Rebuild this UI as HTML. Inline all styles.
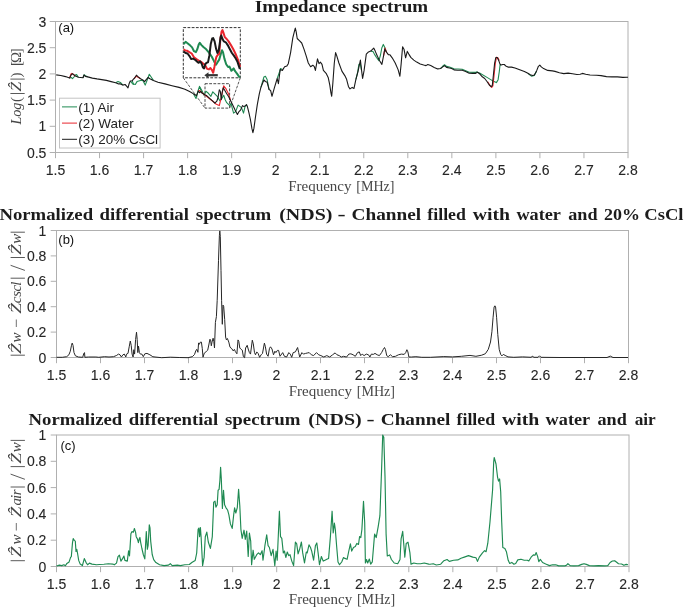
<!DOCTYPE html>
<html><head><meta charset="utf-8"><title>Impedance spectrum</title>
<style>
html,body{margin:0;padding:0;background:#fff;}
body{width:685px;height:607px;overflow:hidden;}
svg{display:block;will-change:transform;}
.ti{font-family:"Liberation Serif",serif;font-weight:bold;font-size:16.5px;fill:#1c1c1c;}
.tk{font-family:"Liberation Sans",sans-serif;font-size:14px;fill:#262626;stroke:#262626;stroke-width:0.1px;}
.xl{font-family:"Liberation Serif",serif;font-size:14.5px;fill:#474747;}
.yl{font-family:"Liberation Serif",serif;font-size:15px;fill:#474747;}
.pl{font-family:"Liberation Sans",sans-serif;font-size:13px;fill:#111;}
.lg{font-family:"Liberation Sans",sans-serif;font-size:13.45px;fill:#222;}
</style></head>
<body><svg width="685" height="607" viewBox="0 0 685 607">
<text x="254.73" y="11.5" class="ti" textLength="91.46" lengthAdjust="spacingAndGlyphs">Impedance</text>
<text x="352.10" y="11.5" class="ti" textLength="76.08" lengthAdjust="spacingAndGlyphs">spectrum</text>
<rect x="55.5" y="21.5" width="572.5" height="131.0" fill="none" stroke="#b0b0b0" stroke-width="1"/>
<line x1="55.50" y1="152.5" x2="55.50" y2="158.2" stroke="#b0b0b0" stroke-width="1"/>
<text x="55.50" y="175" class="tk" text-anchor="middle">1.5</text>
<line x1="99.54" y1="152.5" x2="99.54" y2="158.2" stroke="#b0b0b0" stroke-width="1"/>
<text x="99.54" y="175" class="tk" text-anchor="middle">1.6</text>
<line x1="143.58" y1="152.5" x2="143.58" y2="158.2" stroke="#b0b0b0" stroke-width="1"/>
<text x="143.58" y="175" class="tk" text-anchor="middle">1.7</text>
<line x1="187.62" y1="152.5" x2="187.62" y2="158.2" stroke="#b0b0b0" stroke-width="1"/>
<text x="187.62" y="175" class="tk" text-anchor="middle">1.8</text>
<line x1="231.65" y1="152.5" x2="231.65" y2="158.2" stroke="#b0b0b0" stroke-width="1"/>
<text x="231.65" y="175" class="tk" text-anchor="middle">1.9</text>
<line x1="275.69" y1="152.5" x2="275.69" y2="158.2" stroke="#b0b0b0" stroke-width="1"/>
<text x="275.69" y="175" class="tk" text-anchor="middle">2</text>
<line x1="319.73" y1="152.5" x2="319.73" y2="158.2" stroke="#b0b0b0" stroke-width="1"/>
<text x="319.73" y="175" class="tk" text-anchor="middle">2.1</text>
<line x1="363.77" y1="152.5" x2="363.77" y2="158.2" stroke="#b0b0b0" stroke-width="1"/>
<text x="363.77" y="175" class="tk" text-anchor="middle">2.2</text>
<line x1="407.81" y1="152.5" x2="407.81" y2="158.2" stroke="#b0b0b0" stroke-width="1"/>
<text x="407.81" y="175" class="tk" text-anchor="middle">2.3</text>
<line x1="451.85" y1="152.5" x2="451.85" y2="158.2" stroke="#b0b0b0" stroke-width="1"/>
<text x="451.85" y="175" class="tk" text-anchor="middle">2.4</text>
<line x1="495.88" y1="152.5" x2="495.88" y2="158.2" stroke="#b0b0b0" stroke-width="1"/>
<text x="495.88" y="175" class="tk" text-anchor="middle">2.5</text>
<line x1="539.92" y1="152.5" x2="539.92" y2="158.2" stroke="#b0b0b0" stroke-width="1"/>
<text x="539.92" y="175" class="tk" text-anchor="middle">2.6</text>
<line x1="583.96" y1="152.5" x2="583.96" y2="158.2" stroke="#b0b0b0" stroke-width="1"/>
<text x="583.96" y="175" class="tk" text-anchor="middle">2.7</text>
<line x1="628.00" y1="152.5" x2="628.00" y2="158.2" stroke="#b0b0b0" stroke-width="1"/>
<text x="628.00" y="175" class="tk" text-anchor="middle">2.8</text>
<line x1="49.7" y1="152.50" x2="55.5" y2="152.50" stroke="#b0b0b0" stroke-width="1"/>
<text x="46.4" y="157.50" class="tk" text-anchor="end">0.5</text>
<line x1="49.7" y1="126.30" x2="55.5" y2="126.30" stroke="#b0b0b0" stroke-width="1"/>
<text x="46.4" y="131.30" class="tk" text-anchor="end">1</text>
<line x1="49.7" y1="100.10" x2="55.5" y2="100.10" stroke="#b0b0b0" stroke-width="1"/>
<text x="46.4" y="105.10" class="tk" text-anchor="end">1.5</text>
<line x1="49.7" y1="73.90" x2="55.5" y2="73.90" stroke="#b0b0b0" stroke-width="1"/>
<text x="46.4" y="78.90" class="tk" text-anchor="end">2</text>
<line x1="49.7" y1="47.70" x2="55.5" y2="47.70" stroke="#b0b0b0" stroke-width="1"/>
<text x="46.4" y="52.70" class="tk" text-anchor="end">2.5</text>
<line x1="49.7" y1="21.50" x2="55.5" y2="21.50" stroke="#b0b0b0" stroke-width="1"/>
<text x="46.4" y="26.50" class="tk" text-anchor="end">3</text>
<text x="288.16" y="190.5" class="xl" textLength="63.35" lengthAdjust="spacingAndGlyphs">Frequency</text>
<text x="356.23" y="190.5" class="xl" textLength="38.33" lengthAdjust="spacingAndGlyphs">[MHz]</text>
<g transform="translate(20.8,0) rotate(-90)"><text x="-113.6" y="0" text-anchor="middle" class="yl" font-size="15" font-style="italic" textLength="22" lengthAdjust="spacingAndGlyphs">Log</text><text x="-99.6" y="0" text-anchor="middle" class="yl" font-size="17">(</text><line x1="-93.5" y1="-10.4" x2="-93.5" y2="3.9" stroke="#474747" stroke-width="0.9"/><text x="-86.6" y="0" text-anchor="middle" class="yl" font-size="15" font-style="italic" textLength="9.6" lengthAdjust="spacingAndGlyphs">Ẑ</text><line x1="-79.1" y1="-10.4" x2="-79.1" y2="3.9" stroke="#474747" stroke-width="0.9"/><text x="-74.9" y="0" text-anchor="middle" class="yl" font-size="17">)</text><text x="-63.6" y="0" text-anchor="middle" class="yl" font-size="15">[</text><text x="-57.3" y="0" text-anchor="middle" class="yl" font-size="15">Ω</text><text x="-50.8" y="0" text-anchor="middle" class="yl" font-size="15">]</text></g>
<text x="58.3" y="32.4" class="pl">(a)</text>
<rect x="205" y="83.7" width="24.6" height="24.4" fill="none" stroke="#4a4a4a" stroke-width="1" stroke-dasharray="2.8,1.4"/>
<line x1="183.3" y1="77.8" x2="205" y2="108.1" stroke="#555" stroke-width="1" stroke-dasharray="2.8,1.4"/>
<line x1="240.3" y1="77.8" x2="229.6" y2="108.1" stroke="#555" stroke-width="1" stroke-dasharray="2.8,1.4"/>
<polyline points="69.6,78.1 71.2,77.5 72.5,78.7 74.0,77.0 75.2,75.0 76.6,74.6 78.4,77.2" fill="none" stroke="#1f8a52" stroke-width="1.1" stroke-linejoin="round"/>
<polyline points="83.0,77.8 84.0,74.8 85.4,75.8 87.7,76.7" fill="none" stroke="#1f8a52" stroke-width="1.1" stroke-linejoin="round"/>
<polyline points="115.7,82.8 118.0,81.6 120.4,82.5 122.7,84.8" fill="none" stroke="#1f8a52" stroke-width="1.1" stroke-linejoin="round"/>
<polyline points="130.3,81.0 131.5,82.5 132.7,84.0 134.0,84.6" fill="none" stroke="#1f8a52" stroke-width="1.1" stroke-linejoin="round"/>
<polyline points="132.1,80.8 133.5,84.0 135.3,84.5 137.0,81.6 140.5,80.5 142.8,80.4 144.2,83.0 145.2,85.1 147.2,80.0 149.3,74.2 151.5,77.5 153.4,80.4" fill="none" stroke="#1f8a52" stroke-width="1.1" stroke-linejoin="round"/>
<polyline points="193.6,93.9 196.0,98.5 198.0,91.0 199.5,86.3 201.0,90.5 202.4,93.3" fill="none" stroke="#1f8a52" stroke-width="1.1" stroke-linejoin="round"/>
<polyline points="200.0,87.4 202.0,90.8 204.0,95.3 205.9,91.3 208.4,93.3 210.9,96.3 212.8,91.8 214.8,93.8 217.3,96.3 219.8,100.7 221.7,98.7 223.7,95.3 225.2,99.7 226.7,102.7 229.7,105.6 231.1,103.7 232.6,109.6 233.6,113.1 235.6,111.6 238.1,105.1 239.5,106.1 241.5,107.6 243.5,113.1 245.0,106.6 247.0,104.7" fill="none" stroke="#1f8a52" stroke-width="1.1" stroke-linejoin="round"/>
<polyline points="260.9,87.4 263.9,77.0 265.4,76.3 267.1,79.5 269.1,89.6" fill="none" stroke="#1f8a52" stroke-width="1.1" stroke-linejoin="round"/>
<polyline points="277.2,78.5 279.5,72.0 280.5,68.5 282.4,69.5" fill="none" stroke="#1f8a52" stroke-width="1.1" stroke-linejoin="round"/>
<polyline points="370.7,51.1 373.0,51.5 374.4,54.1 376.5,57.5 378.9,60.7 380.5,55.0 381.8,48.0 383.3,44.4 384.8,47.5 386.3,51.9" fill="none" stroke="#1f8a52" stroke-width="1.1" stroke-linejoin="round"/>
<polyline points="355.9,79.3 357.5,73.0 358.9,64.4 360.4,64.0 361.4,70.0" fill="none" stroke="#1f8a52" stroke-width="1.1" stroke-linejoin="round"/>
<polyline points="440.6,68.5 442.4,66.5 444.5,64.8 446.5,66.4 449.4,67.0 454.0,68.8 462.2,69.3 469.2,72.2 475.7,72.4 477.4,71.5" fill="none" stroke="#1f8a52" stroke-width="1.1" stroke-linejoin="round"/>
<polyline points="477.4,72.3 480.0,73.3 487.0,77.4 492.8,80.9 496.4,82.6 498.1,79.7 499.3,71.5 500.1,64.5 501.0,65.1" fill="none" stroke="#1f8a52" stroke-width="1.1" stroke-linejoin="round"/>
<polyline points="527.9,73.3 531.4,76.2 534.3,75.4 536.6,71.0" fill="none" stroke="#1f8a52" stroke-width="1.1" stroke-linejoin="round"/>
<polyline points="69.6,78.1 71.0,74.0 71.9,73.4 73.5,74.5 75.4,76.1" fill="none" stroke="#e8262e" stroke-width="1.15" stroke-linejoin="round"/>
<polyline points="134.1,78.7 136.4,76.2 138.5,77.5 140.5,78.7" fill="none" stroke="#e8262e" stroke-width="1.15" stroke-linejoin="round"/>
<polyline points="198.3,91.0 199.5,90.5 200.7,91.5" fill="none" stroke="#e8262e" stroke-width="1.15" stroke-linejoin="round"/>
<polyline points="200.0,91.3 205.9,95.8 212.8,101.2 216.3,104.2 219.3,105.6 221.3,97.2 223.7,85.9 225.7,88.3 228.7,94.3 230.6,100.7" fill="none" stroke="#e8262e" stroke-width="1.15" stroke-linejoin="round"/>
<polyline points="383.6,55.6 385.1,48.1 386.3,51.9" fill="none" stroke="#e8262e" stroke-width="1.15" stroke-linejoin="round"/>
<polyline points="487.6,81.7 489.9,85.3 491.7,87.3 492.9,85.8 494.1,75.0 495.3,63.4 496.5,57.2 497.9,57.7 499.2,60.6" fill="none" stroke="#e8262e" stroke-width="1.15" stroke-linejoin="round"/>
<polyline points="56.2,74.9 60.8,75.5 65.5,76.6 69.6,78.1 71.4,74.6 72.5,73.8 73.7,74.6 75.4,76.1 78.4,77.2 83.0,77.8 84.0,75.0 85.4,76.4 87.7,76.9 92.4,78.1 97.0,78.9 101.7,79.6 106.4,80.4 111.1,81.6 115.7,82.8 118.6,83.9 120.4,83.9 122.7,85.1 125.1,84.5 126.8,86.3 128.0,87.8 129.2,83.4 130.3,81.0 132.1,80.8 133.8,78.7 134.1,78.7 136.4,75.2 138.2,76.9 140.5,78.7 142.8,79.9 144.6,81.6 146.4,79.3 148.1,77.5 149.9,78.7 153.4,80.4 158.0,82.2 165.0,83.9 172.0,85.7 179.1,87.4 184.9,89.2 189.6,91.5 193.6,93.9 196.6,95.6 198.3,91.0 199.5,92.7 200.7,91.5 202.4,93.3 204.9,94.8 206.9,95.8 209.9,98.7 212.8,101.2 214.8,103.2 216.8,101.2 218.0,97.7 219.3,89.8 220.3,91.3 221.3,99.7 222.2,92.3 223.2,87.8 224.7,90.3 226.7,93.8 228.7,96.7 230.6,100.7 232.6,104.7 235.1,110.1 237.4,114.5 239.0,111.6 240.5,110.1 242.5,105.6 244.0,106.6 245.3,105.6 246.5,104.7 247.4,106.6 248.9,112.6 250.4,119.5 251.9,128.4 252.9,132.6 253.9,128.4 255.4,117.5 257.3,104.7 259.3,93.8 260.9,87.4 263.9,80.0 265.4,81.5 267.1,82.2 269.1,89.6 270.6,90.4 272.0,96.3 274.3,88.1 277.2,78.5 278.4,83.7 280.2,69.6 282.4,70.4 284.6,66.7 286.9,65.9 288.3,63.7 290.6,52.6 292.8,37.8 294.3,31.9 295.3,28.1 296.2,31.9 297.2,38.5 299.4,40.7 301.7,43.0 303.9,48.9 306.1,55.6 308.3,63.0 310.6,66.7 312.8,65.2 314.3,66.7 315.4,70.4 316.5,64.4 317.5,58.8 319.0,63.7 320.5,62.2 322.0,64.4 323.4,70.4 326.1,73.3 328.3,77.8 329.8,85.2 330.9,92.6 331.7,96.3 332.8,83.7 334.3,63.0 335.6,52.6 336.7,55.6 338.9,63.0 341.9,71.1 344.8,75.6 346.6,79.3 348.5,86.7 350.0,88.9 352.2,87.4 354.0,88.4 355.9,79.3 358.1,71.1 360.4,60.0 361.4,68.9 362.6,78.5 364.1,70.4 366.3,54.1 368.5,51.9 370.7,51.1 373.7,48.1 375.2,51.1 377.4,56.3 379.6,60.7 381.9,64.4 383.6,55.6 384.8,48.9 386.3,51.9 388.5,54.8 390.0,54.8 392.2,57.8 395.2,63.0 398.1,69.6 399.9,76.3 401.1,64.4 402.6,46.7 404.1,49.6 405.6,57.8 407.3,51.4 408.8,54.1 410.8,57.4 413.8,60.1 416.7,62.1 420.2,63.9 423.7,65.0 426.0,65.6 427.8,64.5 430.7,65.6 434.2,67.4 437.7,68.9 440.6,68.5 442.4,67.1 444.5,65.6 446.5,67.4 449.4,68.0 451.7,68.5 454.0,69.9 457.6,70.3 462.2,70.3 465.7,71.5 469.2,73.2 472.7,73.4 475.7,73.4 477.4,72.3 479.7,73.8 482.3,76.8 484.7,78.5 487.0,81.5 489.3,85.0 491.1,86.7 492.3,85.5 493.4,75.0 494.6,63.4 495.8,57.5 497.3,57.5 498.7,60.4 499.9,63.9 501.0,65.1 502.8,64.5 504.3,64.5 505.7,65.9 508.0,67.1 511.5,67.1 515.0,68.0 519.7,69.8 524.4,71.5 527.9,73.3 530.2,74.7 532.6,75.6 534.3,75.0 536.6,70.9 538.4,66.3 539.8,65.1 541.3,66.9 543.6,68.6 547.7,70.4 552.4,70.9 555.0,71.4 559.4,72.7 563.8,73.6 568.1,73.1 572.5,73.8 576.9,74.5 580.2,74.2 582.4,73.4 585.7,74.2 590.0,75.0 596.6,75.3 601.0,75.6 606.5,76.6 611.9,76.9 617.4,76.9 622.9,77.4 627.3,77.2 628.0,77.3" fill="none" stroke="#1a1a1a" stroke-width="1.1" stroke-linejoin="round"/>
<rect x="183.3" y="27.6" width="57" height="50.2" fill="#fff" stroke="#333" stroke-width="1" stroke-dasharray="2.8,1.4"/>
<polyline points="183.6,44.2 185.6,41.8 187.5,43.2 190.3,45.6 192.1,47.4 194.0,51.2 195.9,52.1 197.3,49.3 198.7,44.6 199.8,42.8 201.5,45.1 203.4,47.0 206.2,49.3 209.0,52.6 211.8,56.8 214.1,61.4 216.0,64.7 217.4,62.4 219.2,59.6 221.1,53.0 222.0,50.2 223.0,52.1 224.4,58.6 226.2,64.2 228.1,67.0 229.5,66.6 231.4,70.8 233.7,68.4 235.1,71.2 237.0,73.6 238.9,76.4 239.8,77.6" fill="none" stroke="#1f8a52" stroke-width="2" stroke-linejoin="round"/>
<polyline points="183.6,49.3 185.1,50.4 187.0,50.7 189.3,52.1 191.7,53.5 194.0,57.2 196.4,59.1 198.7,60.5 201.0,61.9 203.4,63.8 205.2,65.2 207.1,68.9 209.0,69.4 210.4,68.0 211.8,69.8 213.2,72.7 214.4,67.0 215.3,61.4 216.4,56.8 217.8,54.9 219.2,54.0 220.4,39.0 221.6,31.5 222.5,30.1 223.4,32.5 224.8,37.1 226.7,39.0 228.6,41.4 230.9,45.1 233.3,49.3 235.6,54.0 237.9,59.6 240.1,67.0" fill="none" stroke="#e8262e" stroke-width="2" stroke-linejoin="round"/>
<polyline points="183.6,51.6 185.6,53.0 187.5,53.5 189.3,55.8 191.2,59.1 193.1,58.6 195.4,60.0 197.3,61.9 198.7,62.8 200.1,61.4 201.5,63.3 202.9,67.5 204.1,68.4 205.2,64.2 206.6,62.8 208.0,62.4 209.4,55.4 210.8,43.7 212.2,38.5 213.2,38.1 214.6,41.4 216.0,48.4 217.4,53.0 218.8,50.2 219.7,43.7 220.6,37.1 221.3,35.5 222.5,39.0 223.9,41.4 225.8,42.3 227.7,45.1 229.5,48.4 231.9,53.0 233.7,55.4 235.6,58.2 237.5,61.9 239.8,68.9" fill="none" stroke="#1a1a1a" stroke-width="2" stroke-linejoin="round"/>
<line x1="217.8" y1="75.2" x2="207" y2="75.2" stroke="#333" stroke-width="2.2"/>
<path d="M204.3,75.2 L208.5,72.2 L208.5,78.2 Z" fill="#333"/>
<rect x="59.5" y="98.2" width="100.6" height="49.8" fill="#fff" stroke="#c4c4c4" stroke-width="1"/>
<line x1="62" y1="106.9" x2="77" y2="106.9" stroke="#1f8a52" stroke-width="1"/>
<text x="78.2" y="111.5" class="lg">(1) Air</text>
<line x1="62" y1="123.1" x2="77" y2="123.1" stroke="#e8262e" stroke-width="1"/>
<text x="78.2" y="127.7" class="lg">(2) Water</text>
<line x1="62" y1="139.3" x2="77" y2="139.3" stroke="#1a1a1a" stroke-width="1"/>
<text x="78.2" y="143.9" class="lg">(3) 20% CsCl</text>
<text x="-0.64" y="219.7" class="ti" textLength="93.69" lengthAdjust="spacingAndGlyphs">Normalized</text>
<text x="99.56" y="219.7" class="ti" textLength="89.43" lengthAdjust="spacingAndGlyphs">differential</text>
<text x="195.80" y="219.7" class="ti" textLength="75.38" lengthAdjust="spacingAndGlyphs">spectrum</text>
<text x="279.19" y="219.7" class="ti" textLength="53.32" lengthAdjust="spacingAndGlyphs">(NDS)</text>
<text x="337.42" y="219.7" class="ti" textLength="8.11" lengthAdjust="spacingAndGlyphs">-</text>
<text x="351.53" y="219.7" class="ti" textLength="69.58" lengthAdjust="spacingAndGlyphs">Channel</text>
<text x="427.30" y="219.7" class="ti" textLength="38.61" lengthAdjust="spacingAndGlyphs">filled</text>
<text x="472.70" y="219.7" class="ti" textLength="37.31" lengthAdjust="spacingAndGlyphs">with</text>
<text x="516.40" y="219.7" class="ti" textLength="44.55" lengthAdjust="spacingAndGlyphs">water</text>
<text x="568.30" y="219.7" class="ti" textLength="29.27" lengthAdjust="spacingAndGlyphs">and</text>
<text x="603.91" y="219.7" class="ti" textLength="35.97" lengthAdjust="spacingAndGlyphs">20%</text>
<text x="644.28" y="219.7" class="ti" textLength="39.17" lengthAdjust="spacingAndGlyphs">CsCl</text>
<rect x="56.5" y="230.5" width="572.0" height="127.0" fill="none" stroke="#b0b0b0" stroke-width="1"/>
<line x1="56.50" y1="357.5" x2="56.50" y2="363.2" stroke="#b0b0b0" stroke-width="1"/>
<text x="56.50" y="380" class="tk" text-anchor="middle">1.5</text>
<line x1="100.50" y1="357.5" x2="100.50" y2="363.2" stroke="#b0b0b0" stroke-width="1"/>
<text x="100.50" y="380" class="tk" text-anchor="middle">1.6</text>
<line x1="144.50" y1="357.5" x2="144.50" y2="363.2" stroke="#b0b0b0" stroke-width="1"/>
<text x="144.50" y="380" class="tk" text-anchor="middle">1.7</text>
<line x1="188.50" y1="357.5" x2="188.50" y2="363.2" stroke="#b0b0b0" stroke-width="1"/>
<text x="188.50" y="380" class="tk" text-anchor="middle">1.8</text>
<line x1="232.50" y1="357.5" x2="232.50" y2="363.2" stroke="#b0b0b0" stroke-width="1"/>
<text x="232.50" y="380" class="tk" text-anchor="middle">1.9</text>
<line x1="276.50" y1="357.5" x2="276.50" y2="363.2" stroke="#b0b0b0" stroke-width="1"/>
<text x="276.50" y="380" class="tk" text-anchor="middle">2</text>
<line x1="320.50" y1="357.5" x2="320.50" y2="363.2" stroke="#b0b0b0" stroke-width="1"/>
<text x="320.50" y="380" class="tk" text-anchor="middle">2.1</text>
<line x1="364.50" y1="357.5" x2="364.50" y2="363.2" stroke="#b0b0b0" stroke-width="1"/>
<text x="364.50" y="380" class="tk" text-anchor="middle">2.2</text>
<line x1="408.50" y1="357.5" x2="408.50" y2="363.2" stroke="#b0b0b0" stroke-width="1"/>
<text x="408.50" y="380" class="tk" text-anchor="middle">2.3</text>
<line x1="452.50" y1="357.5" x2="452.50" y2="363.2" stroke="#b0b0b0" stroke-width="1"/>
<text x="452.50" y="380" class="tk" text-anchor="middle">2.4</text>
<line x1="496.50" y1="357.5" x2="496.50" y2="363.2" stroke="#b0b0b0" stroke-width="1"/>
<text x="496.50" y="380" class="tk" text-anchor="middle">2.5</text>
<line x1="540.50" y1="357.5" x2="540.50" y2="363.2" stroke="#b0b0b0" stroke-width="1"/>
<text x="540.50" y="380" class="tk" text-anchor="middle">2.6</text>
<line x1="584.50" y1="357.5" x2="584.50" y2="363.2" stroke="#b0b0b0" stroke-width="1"/>
<text x="584.50" y="380" class="tk" text-anchor="middle">2.7</text>
<line x1="628.50" y1="357.5" x2="628.50" y2="363.2" stroke="#b0b0b0" stroke-width="1"/>
<text x="628.50" y="380" class="tk" text-anchor="middle">2.8</text>
<line x1="50.7" y1="357.50" x2="56.5" y2="357.50" stroke="#b0b0b0" stroke-width="1"/>
<text x="46.4" y="362.50" class="tk" text-anchor="end">0</text>
<line x1="50.7" y1="332.10" x2="56.5" y2="332.10" stroke="#b0b0b0" stroke-width="1"/>
<text x="46.4" y="337.10" class="tk" text-anchor="end">0.2</text>
<line x1="50.7" y1="306.70" x2="56.5" y2="306.70" stroke="#b0b0b0" stroke-width="1"/>
<text x="46.4" y="311.70" class="tk" text-anchor="end">0.4</text>
<line x1="50.7" y1="281.30" x2="56.5" y2="281.30" stroke="#b0b0b0" stroke-width="1"/>
<text x="46.4" y="286.30" class="tk" text-anchor="end">0.6</text>
<line x1="50.7" y1="255.90" x2="56.5" y2="255.90" stroke="#b0b0b0" stroke-width="1"/>
<text x="46.4" y="260.90" class="tk" text-anchor="end">0.8</text>
<line x1="50.7" y1="230.50" x2="56.5" y2="230.50" stroke="#b0b0b0" stroke-width="1"/>
<text x="46.4" y="235.50" class="tk" text-anchor="end">1</text>
<text x="288.66" y="396.1" class="xl" textLength="63.35" lengthAdjust="spacingAndGlyphs">Frequency</text>
<text x="356.73" y="396.1" class="xl" textLength="38.33" lengthAdjust="spacingAndGlyphs">[MHz]</text>
<g transform="translate(21.0,0) rotate(-90)"><line x1="-355.2" y1="-10.4" x2="-355.2" y2="3.9" stroke="#474747" stroke-width="0.9"/><text x="-348.6" y="0" text-anchor="middle" class="yl" font-size="15" font-style="italic" textLength="10.8" lengthAdjust="spacingAndGlyphs">Ẑ</text><text x="-337.5" y="0" text-anchor="middle" class="yl" font-size="15" font-style="italic">w</text><text x="-323.4" y="0" text-anchor="middle" class="yl" font-size="15" textLength="9" lengthAdjust="spacingAndGlyphs">−</text><text x="-308.4" y="0" text-anchor="middle" class="yl" font-size="15" font-style="italic" textLength="10.8" lengthAdjust="spacingAndGlyphs">Ẑ</text><text x="-300" y="0" text-anchor="middle" class="yl" font-size="15" font-style="italic">c</text><text x="-293.9" y="0" text-anchor="middle" class="yl" font-size="15" font-style="italic">s</text><text x="-288.1" y="0" text-anchor="middle" class="yl" font-size="15" font-style="italic">c</text><text x="-283.6" y="0" text-anchor="middle" class="yl" font-size="15" font-style="italic">l</text><line x1="-278.2" y1="-10.4" x2="-278.2" y2="3.9" stroke="#474747" stroke-width="0.9"/><line x1="-270.4" y1="3.9" x2="-265.3" y2="-10.4" stroke="#474747" stroke-width="0.9"/><line x1="-257.5" y1="-10.4" x2="-257.5" y2="3.9" stroke="#474747" stroke-width="0.9"/><text x="-249.5" y="0" text-anchor="middle" class="yl" font-size="15" font-style="italic" textLength="10.8" lengthAdjust="spacingAndGlyphs">Ẑ</text><text x="-238.8" y="0" text-anchor="middle" class="yl" font-size="15" font-style="italic">w</text><line x1="-232.2" y1="-10.4" x2="-232.2" y2="3.9" stroke="#474747" stroke-width="0.9"/></g>
<text x="58.3" y="244.4" class="pl">(b)</text>
<polyline points="56.5,357.3 62.3,357.3 66.7,356.7 68.9,354.8 70.3,351.2 71.5,345.3 72.2,343.1 73.0,345.3 74.0,352.6 75.4,355.8 78.4,357.0 82.7,357.3 83.8,353.4 84.5,352.6 84.9,357.3 88.6,357.0 95.9,357.0 98.8,357.3 104.6,356.7 109.0,357.0 113.4,356.7 116.3,355.6 118.5,354.1 120.0,354.8 121.4,357.0 122.9,354.8 124.3,354.1 125.8,357.0 126.5,354.1 128.0,353.4 129.2,346.8 130.3,341.0 131.2,345.3 132.1,354.1 133.1,357.0 133.8,349.7 134.6,354.1 135.6,339.5 136.5,332.2 137.2,339.5 137.8,352.6 138.5,346.1 139.4,352.6 140.4,354.1 141.9,354.1 143.3,356.7 144.8,353.8 147.0,353.4 149.9,354.8 152.8,356.7 155.0,357.0 161.7,357.7 170.4,357.2 179.2,357.5 188.0,357.7 192.3,356.7 194.5,354.5 196.0,350.2 197.0,349.4 197.9,352.3 198.6,342.9 199.3,344.3 200.4,342.1 201.4,342.1 202.3,348.7 203.0,357.2 204.3,353.1 206.2,351.6 207.7,350.2 208.8,345.0 209.9,339.2 210.6,339.9 211.3,345.8 212.0,342.1 213.1,338.2 213.8,341.4 214.5,348.0 215.4,322.4 216.4,316.6 217.2,300.3 218.5,260.3 219.4,235.3 219.8,230.9 220.3,236.3 221.0,270.3 221.6,300.3 222.3,324.3 223.0,305.1 223.7,306.4 224.7,319.5 225.6,337.0 226.4,339.9 227.4,338.5 228.8,342.1 230.0,347.2 231.8,348.7 233.2,350.9 234.4,349.4 235.4,351.6 236.9,353.8 238.0,339.9 238.8,341.4 239.8,348.0 241.2,349.4 242.3,350.2 243.4,356.7 244.6,357.7 245.6,348.0 247.2,345.3 248.2,349.0 249.4,352.6 250.5,354.1 252.3,340.2 253.3,343.9 254.5,352.6 255.5,354.8 256.7,351.9 258.1,353.4 259.6,357.3 261.1,354.8 262.5,353.4 264.4,343.1 265.4,346.8 266.6,354.1 268.1,356.3 269.5,348.3 270.5,346.8 272.0,349.0 273.5,354.8 274.9,351.2 275.9,352.6 277.4,350.4 278.6,350.4 280.0,356.3 282.7,352.6 284.4,356.3 286.6,357.0 288.8,352.6 290.3,354.1 291.7,357.3 293.2,352.6 295.4,351.9 297.6,347.5 298.7,352.6 299.7,357.0 301.9,352.6 303.4,354.1 305.6,353.4 307.8,352.9 309.2,352.6 311.4,354.8 313.6,355.6 316.5,352.6 318.7,354.8 320.9,355.6 323.8,357.0 326.8,355.6 329.7,357.0 332.6,354.8 335.1,352.9 337.0,354.8 339.2,355.6 341.4,357.0 343.5,356.3 345.0,356.7 346.6,357.0 348.8,354.1 350.9,353.8 353.1,354.8 355.3,356.3 357.5,352.6 359.3,351.9 360.7,355.6 362.2,354.1 364.1,355.6 366.3,354.1 368.5,354.8 369.9,357.0 371.4,354.1 373.3,354.4 375.0,353.4 377.2,354.8 379.4,355.6 381.6,352.6 383.1,349.7 384.5,347.5 385.5,349.7 386.7,355.6 388.2,356.7 390.4,354.8 392.6,356.7 395.5,356.3 398.4,354.8 401.3,354.1 404.2,354.4 405.7,352.6 406.9,349.7 407.9,351.9 408.9,357.0 411.5,357.0 415.9,356.7 421.8,357.3 430.5,357.3 443.8,356.6 452.5,356.9 461.3,356.3 470.0,355.4 475.9,356.3 481.7,355.2 485.4,353.7 488.3,349.3 490.5,342.0 491.9,331.8 493.1,317.2 494.1,307.0 494.9,305.8 495.6,307.0 496.6,317.2 497.8,334.7 499.2,349.3 500.7,354.4 501.9,355.9 503.3,354.4 505.1,355.4 508.0,356.9 513.8,357.3 522.6,356.9 531.4,357.3 532.2,356.1 534.0,357.3 538.0,357.3 539.5,355.8 541.0,357.3 560.0,357.5 590.0,357.5 607.0,357.5 610.3,356.1 613.0,357.5 628.0,357.5" fill="none" stroke="#262626" stroke-width="1" stroke-linejoin="round"/>
<text x="28.56" y="425" class="ti" textLength="93.69" lengthAdjust="spacingAndGlyphs">Normalized</text>
<text x="128.76" y="425" class="ti" textLength="89.43" lengthAdjust="spacingAndGlyphs">differential</text>
<text x="225.00" y="425" class="ti" textLength="75.38" lengthAdjust="spacingAndGlyphs">spectrum</text>
<text x="308.39" y="425" class="ti" textLength="53.32" lengthAdjust="spacingAndGlyphs">(NDS)</text>
<text x="366.62" y="425" class="ti" textLength="8.11" lengthAdjust="spacingAndGlyphs">-</text>
<text x="380.73" y="425" class="ti" textLength="69.58" lengthAdjust="spacingAndGlyphs">Channel</text>
<text x="456.50" y="425" class="ti" textLength="38.61" lengthAdjust="spacingAndGlyphs">filled</text>
<text x="501.90" y="425" class="ti" textLength="37.31" lengthAdjust="spacingAndGlyphs">with</text>
<text x="545.60" y="425" class="ti" textLength="44.55" lengthAdjust="spacingAndGlyphs">water</text>
<text x="597.50" y="425" class="ti" textLength="29.27" lengthAdjust="spacingAndGlyphs">and</text>
<text x="634.70" y="425" class="ti" textLength="21.08" lengthAdjust="spacingAndGlyphs">air</text>
<rect x="56.5" y="435.0" width="572.5" height="131.5" fill="none" stroke="#b0b0b0" stroke-width="1"/>
<line x1="56.50" y1="566.5" x2="56.50" y2="572.2" stroke="#b0b0b0" stroke-width="1"/>
<text x="56.50" y="588.5" class="tk" text-anchor="middle">1.5</text>
<line x1="100.54" y1="566.5" x2="100.54" y2="572.2" stroke="#b0b0b0" stroke-width="1"/>
<text x="100.54" y="588.5" class="tk" text-anchor="middle">1.6</text>
<line x1="144.58" y1="566.5" x2="144.58" y2="572.2" stroke="#b0b0b0" stroke-width="1"/>
<text x="144.58" y="588.5" class="tk" text-anchor="middle">1.7</text>
<line x1="188.62" y1="566.5" x2="188.62" y2="572.2" stroke="#b0b0b0" stroke-width="1"/>
<text x="188.62" y="588.5" class="tk" text-anchor="middle">1.8</text>
<line x1="232.65" y1="566.5" x2="232.65" y2="572.2" stroke="#b0b0b0" stroke-width="1"/>
<text x="232.65" y="588.5" class="tk" text-anchor="middle">1.9</text>
<line x1="276.69" y1="566.5" x2="276.69" y2="572.2" stroke="#b0b0b0" stroke-width="1"/>
<text x="276.69" y="588.5" class="tk" text-anchor="middle">2</text>
<line x1="320.73" y1="566.5" x2="320.73" y2="572.2" stroke="#b0b0b0" stroke-width="1"/>
<text x="320.73" y="588.5" class="tk" text-anchor="middle">2.1</text>
<line x1="364.77" y1="566.5" x2="364.77" y2="572.2" stroke="#b0b0b0" stroke-width="1"/>
<text x="364.77" y="588.5" class="tk" text-anchor="middle">2.2</text>
<line x1="408.81" y1="566.5" x2="408.81" y2="572.2" stroke="#b0b0b0" stroke-width="1"/>
<text x="408.81" y="588.5" class="tk" text-anchor="middle">2.3</text>
<line x1="452.85" y1="566.5" x2="452.85" y2="572.2" stroke="#b0b0b0" stroke-width="1"/>
<text x="452.85" y="588.5" class="tk" text-anchor="middle">2.4</text>
<line x1="496.88" y1="566.5" x2="496.88" y2="572.2" stroke="#b0b0b0" stroke-width="1"/>
<text x="496.88" y="588.5" class="tk" text-anchor="middle">2.5</text>
<line x1="540.92" y1="566.5" x2="540.92" y2="572.2" stroke="#b0b0b0" stroke-width="1"/>
<text x="540.92" y="588.5" class="tk" text-anchor="middle">2.6</text>
<line x1="584.96" y1="566.5" x2="584.96" y2="572.2" stroke="#b0b0b0" stroke-width="1"/>
<text x="584.96" y="588.5" class="tk" text-anchor="middle">2.7</text>
<line x1="629.00" y1="566.5" x2="629.00" y2="572.2" stroke="#b0b0b0" stroke-width="1"/>
<text x="629.00" y="588.5" class="tk" text-anchor="middle">2.8</text>
<line x1="50.7" y1="566.50" x2="56.5" y2="566.50" stroke="#b0b0b0" stroke-width="1"/>
<text x="46.4" y="571.50" class="tk" text-anchor="end">0</text>
<line x1="50.7" y1="540.20" x2="56.5" y2="540.20" stroke="#b0b0b0" stroke-width="1"/>
<text x="46.4" y="545.20" class="tk" text-anchor="end">0.2</text>
<line x1="50.7" y1="513.90" x2="56.5" y2="513.90" stroke="#b0b0b0" stroke-width="1"/>
<text x="46.4" y="518.90" class="tk" text-anchor="end">0.4</text>
<line x1="50.7" y1="487.60" x2="56.5" y2="487.60" stroke="#b0b0b0" stroke-width="1"/>
<text x="46.4" y="492.60" class="tk" text-anchor="end">0.6</text>
<line x1="50.7" y1="461.30" x2="56.5" y2="461.30" stroke="#b0b0b0" stroke-width="1"/>
<text x="46.4" y="466.30" class="tk" text-anchor="end">0.8</text>
<line x1="50.7" y1="435.00" x2="56.5" y2="435.00" stroke="#b0b0b0" stroke-width="1"/>
<text x="46.4" y="440.00" class="tk" text-anchor="end">1</text>
<text x="288.86" y="604" class="xl" textLength="63.35" lengthAdjust="spacingAndGlyphs">Frequency</text>
<text x="356.93" y="604" class="xl" textLength="38.33" lengthAdjust="spacingAndGlyphs">[MHz]</text>
<g transform="translate(21.0,0) rotate(-90)"><line x1="-560.7" y1="-10.4" x2="-560.7" y2="3.9" stroke="#474747" stroke-width="0.9"/><text x="-551.8" y="0" text-anchor="middle" class="yl" font-size="15" font-style="italic" textLength="10.8" lengthAdjust="spacingAndGlyphs">Ẑ</text><text x="-539.4" y="0" text-anchor="middle" class="yl" font-size="15" font-style="italic">w</text><text x="-527.1" y="0" text-anchor="middle" class="yl" font-size="15" textLength="9" lengthAdjust="spacingAndGlyphs">−</text><text x="-512" y="0" text-anchor="middle" class="yl" font-size="15" font-style="italic" textLength="10.8" lengthAdjust="spacingAndGlyphs">Ẑ</text><text x="-501.8" y="0" text-anchor="middle" class="yl" font-size="15" font-style="italic">a</text><text x="-496.9" y="0" text-anchor="middle" class="yl" font-size="15" font-style="italic">i</text><text x="-492.3" y="0" text-anchor="middle" class="yl" font-size="15" font-style="italic">r</text><line x1="-487" y1="-10.4" x2="-487" y2="3.9" stroke="#474747" stroke-width="0.9"/><line x1="-479.3" y1="3.9" x2="-474.1" y2="-10.4" stroke="#474747" stroke-width="0.9"/><line x1="-466.6" y1="-10.4" x2="-466.6" y2="3.9" stroke="#474747" stroke-width="0.9"/><text x="-458.3" y="0" text-anchor="middle" class="yl" font-size="15" font-style="italic" textLength="10.8" lengthAdjust="spacingAndGlyphs">Ẑ</text><text x="-447.3" y="0" text-anchor="middle" class="yl" font-size="15" font-style="italic">w</text><line x1="-440.4" y1="-10.4" x2="-440.4" y2="3.9" stroke="#474747" stroke-width="0.9"/></g>
<text x="60.5" y="449.5" class="pl">(c)</text>
<polyline points="56.5,566.0 59.4,565.1 61.7,565.6 63.9,564.8 65.4,565.7 66.9,563.4 69.1,561.9 70.6,557.4 71.3,556.7 72.5,542.6 73.2,538.6 74.3,540.4 75.3,541.1 76.0,551.5 76.8,549.3 77.5,553.0 78.7,560.4 80.2,564.1 82.4,565.6 84.3,558.6 86.1,562.6 87.6,564.8 89.4,563.1 92.0,564.1 96.5,564.8 99.4,564.5 103.9,564.3 108.3,563.7 112.8,564.1 114.3,564.8 116.5,563.1 118.0,556.7 119.4,555.2 120.9,561.1 122.4,558.9 123.9,556.0 124.9,560.4 127.3,561.1 128.6,550.8 129.5,556.0 130.9,533.7 132.0,531.5 133.3,532.3 134.4,528.5 135.6,532.3 136.2,536.7 137.4,538.9 138.4,542.6 139.2,538.9 139.9,537.4 140.7,542.6 141.9,548.5 143.3,554.5 144.8,558.9 146.3,531.5 147.3,549.3 148.1,545.6 149.3,524.8 150.0,527.8 150.7,541.1 152.2,554.5 153.7,559.7 155.9,562.6 159.6,564.8 164.1,565.6 168.5,565.1 170.3,563.7 172.2,565.6 177.4,565.1 180.4,565.6 184.8,564.8 189.3,564.5 192.2,562.2 195.2,560.4 196.7,553.0 198.1,529.3 198.9,528.1 199.6,536.7 200.4,527.5 201.1,536.7 202.6,565.6 204.1,557.4 205.3,536.7 206.8,532.1 208.3,542.0 210.4,548.4 212.3,536.6 213.7,502.1 215.0,501.2 215.9,507.2 217.2,504.8 218.1,490.3 219.1,489.4 219.9,480.4 220.6,467.3 221.3,478.5 222.4,508.5 223.5,490.3 224.6,504.8 225.9,507.6 227.7,510.3 228.9,514.8 230.4,523.9 232.2,528.4 233.7,514.8 234.6,507.9 235.8,513.0 237.3,507.6 238.6,489.4 239.8,505.8 240.9,529.3 242.2,538.4 244.0,530.2 245.3,539.3 246.7,531.1 248.2,556.5 249.4,533.0 250.7,541.1 251.6,564.7 253.1,550.2 254.3,559.3 256.7,554.7 258.5,552.9 260.3,554.7 262.1,550.7 263.0,560.2 264.9,545.7 266.7,534.8 268.1,545.7 269.4,547.5 271.2,555.6 273.0,549.3 274.8,565.6 276.1,551.1 277.2,560.2 279.4,511.2 280.5,536.6 281.8,538.4 283.3,552.9 284.5,551.1 285.8,557.5 287.3,552.0 288.7,555.6 290.0,554.7 291.8,561.1 293.6,565.6 295.4,542.0 296.7,543.8 298.1,553.8 299.6,549.3 301.4,542.0 302.7,552.9 304.5,562.9 306.3,552.0 307.2,552.9 309.0,544.8 310.5,547.5 311.7,551.1 313.6,560.2 315.4,545.7 316.8,542.9 318.1,552.9 319.5,564.7 321.4,556.5 323.2,561.1 325.0,560.2 326.8,559.3 328.6,558.4 330.4,536.6 332.1,511.2 333.2,533.0 334.4,523.0 335.3,529.3 336.6,545.7 338.0,562.0 339.5,564.7 341.7,562.0 343.5,557.5 344.9,558.4 347.1,559.3 348.6,552.0 350.4,543.8 351.7,551.1 353.5,547.5 355.3,546.6 356.8,543.4 358.5,544.5 359.6,536.5 360.8,537.6 361.9,529.5 363.5,501.4 364.7,522.6 365.4,563.0 366.5,559.5 367.7,563.0 369.3,559.0 370.7,564.1 372.3,561.8 374.6,534.1 376.2,537.6 378.1,527.2 379.9,515.7 381.5,471.9 382.7,435.0 383.8,437.3 385.0,476.5 386.1,534.1 387.3,556.0 389.6,554.9 391.4,559.5 394.2,563.0 397.7,563.7 400.0,559.5 401.1,538.8 402.7,531.4 403.9,545.7 404.8,557.2 406.2,543.4 408.0,542.2 409.9,552.6 411.0,564.1 413.8,563.0 417.2,563.7 420.7,563.7 424.2,563.0 428.8,564.1 430.0,564.2 433.2,563.7 436.4,565.0 440.7,564.2 443.9,560.7 447.1,559.5 449.3,561.4 453.6,560.3 457.8,559.9 461.0,558.2 464.3,557.1 468.5,555.6 472.8,557.1 476.0,557.7 477.5,561.4 479.3,557.1 482.5,552.8 484.6,550.7 486.1,551.7 487.8,543.2 490.0,521.8 492.6,489.7 493.7,461.8 494.2,457.5 496.0,464.0 497.5,476.8 498.5,481.1 499.6,478.9 500.7,491.8 501.7,521.8 502.8,547.5 504.9,548.5 506.4,551.7 508.2,560.3 509.7,563.5 511.8,562.4 513.9,564.2 515.7,563.5 517.8,559.9 521.0,559.2 524.2,560.3 527.3,560.2 528.8,561.0 531.1,557.2 533.4,554.9 535.0,555.2 536.2,552.6 537.6,556.4 538.8,561.7 540.3,559.4 542.6,562.5 545.7,564.0 549.5,565.6 552.6,564.8 555.7,564.8 558.7,565.9 564.9,565.9 566.4,565.3 567.9,563.7 570.2,565.6 574.0,565.9 578.6,565.6 581.7,564.4 584.0,563.7 586.3,564.4 589.4,565.6 594.0,565.9 598.6,565.6 604.7,565.9 607.8,565.6 610.1,562.5 612.4,561.0 614.7,560.7 617.0,562.5 618.5,563.7 621.6,564.0 623.9,565.3 626.2,564.4 628.0,564.8" fill="none" stroke="#1f8a52" stroke-width="1.15" stroke-linejoin="round"/>
</svg></body></html>
